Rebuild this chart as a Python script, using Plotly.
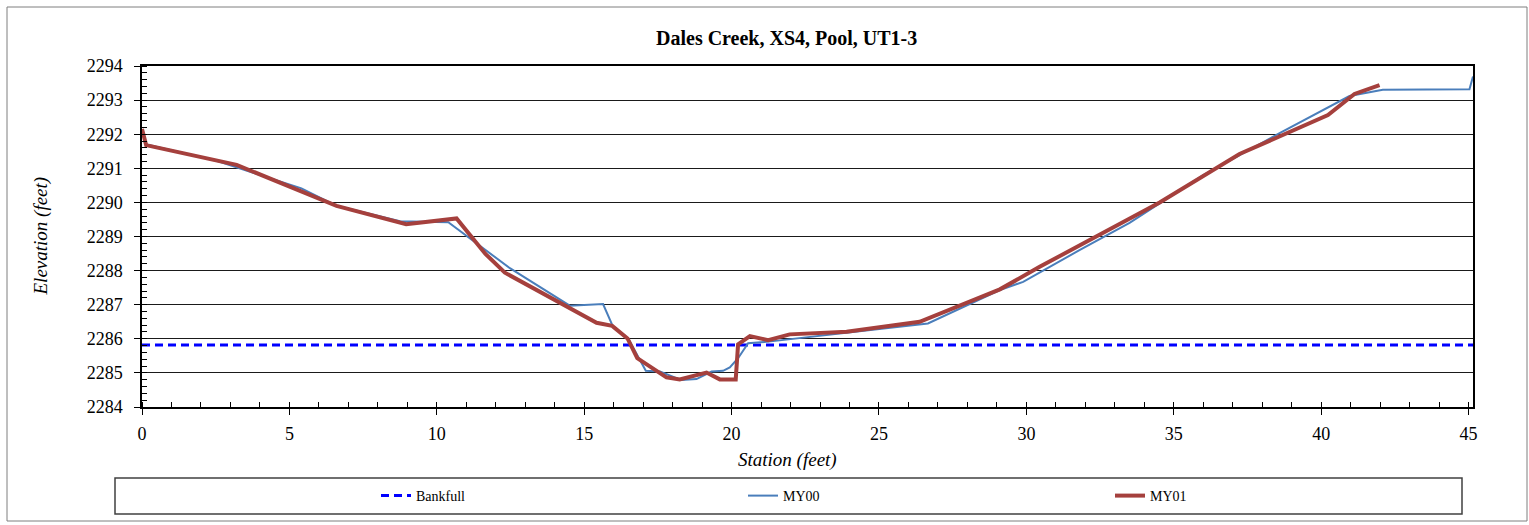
import plotly.graph_objects as go

# ---- data ----
bankfull_x = [0, 45.15]
bankfull_y = [2285.82, 2285.82]

my00_x = [0, 0.15, 2.53, 5.41, 6.6, 8.75, 10.39, 12.48, 14.51, 15.64, 15.98, 16.5, 17.09, 17.57,
          18.30, 18.81, 19.32, 19.71, 19.94, 20.22, 20.56, 21.18, 26.66, 29.1, 29.89, 31.8, 33.5,
          36.0, 38.59, 40.96, 42.09, 45.03, 45.15]
my00_y = [2292.1, 2291.7, 2291.22, 2290.41, 2289.9, 2289.45, 2289.42, 2288.07, 2286.97, 2287.02,
          2286.35, 2286.0, 2285.06, 2285.04, 2284.79, 2284.82, 2285.04, 2285.06, 2285.16, 2285.43,
          2285.87, 2285.91, 2286.45, 2287.43, 2287.67, 2288.6, 2289.4, 2290.8, 2292.03, 2293.12,
          2293.30, 2293.32, 2293.69]

my01_x = [0, 0.14, 3.21, 6.60, 8.96, 10.67, 11.65, 12.31, 15.42, 15.95, 16.47, 16.8, 17.79, 18.24,
          19.15, 19.60, 20.14, 20.22, 20.62, 21.24, 21.97, 23.9, 26.38, 29.1, 30.45, 34.52, 37.23,
          40.23, 41.13, 41.98]
my01_y = [2292.15, 2291.68, 2291.10, 2289.9, 2289.36, 2289.53, 2288.49, 2287.94, 2286.47, 2286.38,
          2286.01, 2285.43, 2284.87, 2284.81, 2285.01, 2284.81, 2284.81, 2285.84, 2286.08, 2285.96,
          2286.13, 2286.21, 2286.50, 2287.45, 2288.11, 2290.0, 2291.42, 2292.56, 2293.18, 2293.44]

title_text = "Dales Creek, XS4, Pool, UT1-3"
x_title = "Station (feet)"
y_title = "Elevation (feet)"
x_range = [0, 45.15]
y_range = [2284, 2294]

FONT = "Liberation Serif, Times New Roman, serif"

fig = go.Figure()
fig.add_trace(go.Scatter(x=bankfull_x, y=bankfull_y, mode="lines", name="Bankfull",
                         line=dict(color="#0000FF", width=3, dash="8px,5px")))
fig.add_trace(go.Scatter(x=my00_x, y=my00_y, mode="lines", name="MY00",
                         line=dict(color="#4A7EBB", width=2)))
fig.add_trace(go.Scatter(x=my01_x, y=my01_y, mode="lines", name="MY01",
                         line=dict(color="#A5403D", width=4)))

L, R, T, B = 142, 56, 66, 118
W, H = 1529, 525
pw, ph = W - L - R, H - T - B

def px(xp):
    return (xp - L) / pw

def py(yp):
    return (H - B - yp) / ph

fig.update_layout(
    width=W, height=H,
    margin=dict(l=L, r=R, t=T, b=B, pad=0),
    paper_bgcolor="white", plot_bgcolor="white",
    font=dict(family=FONT, size=18, color="black"),
    showlegend=True,
    legend=dict(orientation="h", x=px(376), xanchor="left", y=py(496), yanchor="middle",
                font=dict(family=FONT, size=14, color="black"),
                bgcolor="rgba(0,0,0,0)", entrywidth=322, entrywidthmode="pixels",
                traceorder="normal"),
    xaxis=dict(range=x_range, dtick=5, tick0=0, showgrid=False, zeroline=False,
               showline=True, linecolor="black", linewidth=1.5, mirror=True,
               ticks="outside", ticklen=6, tickwidth=1, tickcolor="black",
               ticklabelstandoff=4,
               minor=dict(dtick=1, ticks="inside", ticklen=5, tickcolor="black", tickwidth=1, showgrid=False),
               tickfont=dict(family=FONT, size=18)),
    yaxis=dict(range=y_range, dtick=1, tick0=2284, showgrid=True, gridcolor="#1a1a1a", gridwidth=1,
               zeroline=False, showline=True, linecolor="black", linewidth=1.5, mirror=True,
               ticks="outside", ticklen=6, tickwidth=1, tickcolor="black",
               ticklabelstandoff=8,
               minor=dict(dtick=0.2, ticks="inside", ticklen=5, tickcolor="black", tickwidth=1, showgrid=False),
               tickfont=dict(family=FONT, size=18)),
    xaxis2=dict(range=x_range, overlaying="x", anchor="y", dtick=5, tick0=0, showgrid=False,
                zeroline=False, showline=False, ticks="inside", ticklen=6, tickcolor="black",
                showticklabels=False),
    yaxis2=dict(range=y_range, overlaying="y", anchor="x", side="left", dtick=1, tick0=2284,
                showgrid=False, zeroline=False, showline=False, ticks="inside", ticklen=6,
                tickcolor="black", showticklabels=False),
    annotations=[
        dict(text="<b>" + title_text + "</b>", x=px(786), y=py(38), xref="paper", yref="paper",
             showarrow=False, xanchor="center", yanchor="middle",
             font=dict(family=FONT, size=20, color="black")),
        dict(text="<i>" + x_title + "</i>", x=px(787), y=py(460), xref="paper", yref="paper",
             showarrow=False, xanchor="center", yanchor="middle",
             font=dict(family=FONT, size=19, color="black")),
        dict(text="<i>" + y_title + "</i>", x=px(40), y=0.5, xref="paper", yref="paper",
             showarrow=False, xanchor="center", yanchor="middle", textangle=-90,
             font=dict(family=FONT, size=19, color="black")),
    ],
    shapes=[
        dict(type="rect", xref="paper", yref="paper", x0=px(115), x1=px(1462), y0=py(514), y1=py(478),
             line=dict(color="#404040", width=1.5), fillcolor="rgba(0,0,0,0)", layer="below"),
        dict(type="rect", xref="paper", yref="paper", x0=px(7), x1=px(1527), y0=py(521), y1=py(7),
             line=dict(color="#7f7f7f", width=1), fillcolor="rgba(0,0,0,0)", layer="below"),
    ],
)

fig.write_html("out.html", config={"displayModeBar": False},
               post_script="document.body.style.margin='0';document.body.style.overflow='hidden';")
